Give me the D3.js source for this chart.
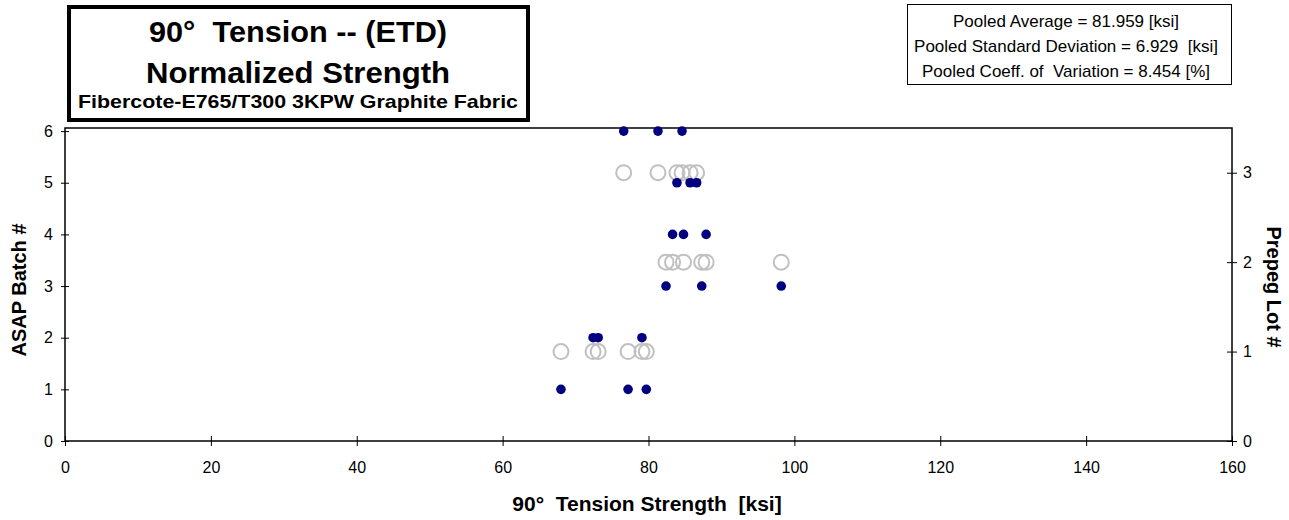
<!DOCTYPE html>
<html>
<head>
<meta charset="utf-8">
<script src="https://cdn.jsdelivr.net/npm/d3@7"></script>
<style>
  body { margin: 0; background: #fff; }
  svg { font-family: "Liberation Sans", Arial, sans-serif; }
  text { white-space: pre; }
</style>
</head>
<body>
<svg id="chart" width="1289" height="520"></svg>
<script>
// values
var batchIds = [1, 2, 3, 4, 5, 6];
var batchValues = [
  [68.0, 77.2, 79.7],
  [72.4, 73.1, 79.1],
  [82.4, 87.3, 98.2],
  [83.3, 84.8, 87.9],
  [83.9, 85.7, 86.6],
  [76.6, 81.3, 84.6]
];
var lotIds = [1, 2, 3];
var lotValues = [
  [68.0, 77.2, 79.7, 72.4, 73.1, 79.1],
  [82.4, 87.3, 98.2, 83.3, 84.8, 87.9],
  [83.9, 85.7, 86.6, 76.6, 81.3, 84.6]
];
var xTicks = [0, 20, 40, 60, 80, 100, 120, 140, 160];
var leftTicks = [0, 1, 2, 3, 4, 5, 6];
var rightTicks = [0, 1, 2, 3];
var titleLines = ["90°  Tension -- (ETD)", "Normalized Strength", "Fibercote-E765/T300 3KPW Graphite Fabric"];
var statLines = ["Pooled Average = 81.959 [ksi]", "Pooled Standard Deviation = 6.929  [ksi]", "Pooled Coeff. of  Variation = 8.454 [%]"];

var svg = d3.select("#chart");
// plot area ("top" is taken on window, so pl/pr/pt/pb)
var pl = 65, pr = 1232, pt = 128, pb = 441;

var x = d3.scaleLinear().domain([0, 160]).range([pl, pr]);
var yL = d3.scaleLinear().domain([0, 6.06]).range([pb, pt]);
var yR = d3.scaleLinear().domain([0, 3.5]).range([pb, pt]);
var fmt = d3.format("d");

// plot frame
svg.append("rect")
  .attr("x", pl).attr("y", pt)
  .attr("width", pr - pl).attr("height", pb - pt)
  .attr("fill", "none").attr("stroke", "#000").attr("stroke-width", 1.5);

// axes, ticks cross the line like excel
function styleAxis(g) {
  g.select(".domain").remove();
  g.selectAll("line").attr("stroke", "#000");
  g.selectAll("text").attr("font-size", 16).attr("fill", "#000")
    .attr("font-family", "Liberation Sans, Arial, sans-serif");
}
svg.append("g").attr("transform", "translate(0," + pb + ")")
  .call(d3.axisBottom(x).tickValues(xTicks).tickFormat(fmt).tickSize(5).tickPadding(16))
  .call(styleAxis)
  .selectAll("line").attr("y1", -5);

svg.append("g").attr("transform", "translate(" + pl + ",0)")
  .call(d3.axisLeft(yL).tickValues(leftTicks).tickFormat(fmt).tickSize(4).tickPadding(8))
  .call(styleAxis)
  .selectAll("line").attr("x1", 4);

svg.append("g").attr("transform", "translate(" + pr + ",0)")
  .call(d3.axisRight(yR).tickValues(rightTicks).tickFormat(fmt).tickSize(5).tickPadding(6))
  .call(styleAxis)
  .selectAll("line").attr("x1", -5);

// lot circles (right axis)
lotIds.forEach(function (lot, i) {
  svg.append("g").selectAll("circle")
    .data(lotValues[i]).enter().append("circle")
    .attr("cx", function (d) { return x(d); })
    .attr("cy", yR(lot))
    .attr("r", 7.5)
    .attr("fill", "none")
    .attr("stroke", "#c0c0c0")
    .attr("stroke-width", 2);
});

// batch dots (left axis)
batchIds.forEach(function (b, i) {
  svg.append("g").selectAll("circle")
    .data(batchValues[i]).enter().append("circle")
    .attr("cx", function (d) { return x(d); })
    .attr("cy", yL(b))
    .attr("r", 4.8)
    .attr("fill", "#000080");
});

// axis titles
svg.append("text")
  .attr("transform", "translate(26,290) rotate(-90)")
  .attr("text-anchor", "middle")
  .attr("font-size", 20).attr("font-weight", "bold")
  .text("ASAP Batch #");

svg.append("text")
  .attr("transform", "translate(1267,287) rotate(90)")
  .attr("text-anchor", "middle")
  .attr("font-size", 20).attr("font-weight", "bold")
  .text("Prepeg Lot #");

svg.append("text")
  .attr("x", 647).attr("y", 511)
  .attr("text-anchor", "middle")
  .attr("font-size", 21).attr("font-weight", "bold")
  .text("90°  Tension Strength  [ksi]");

// title box
svg.append("rect")
  .attr("x", 69).attr("y", 7).attr("width", 459).attr("height", 113)
  .attr("fill", "#fff").attr("stroke", "#000").attr("stroke-width", 4);
var tSizes = [29, 29, 19], tY = [42, 83, 108], tLen = [298, 304, 440];
titleLines.forEach(function (t, i) {
  svg.append("text")
    .attr("x", 298).attr("y", tY[i])
    .attr("text-anchor", "middle")
    .attr("font-size", tSizes[i]).attr("font-weight", "bold")
    .attr("textLength", tLen[i]).attr("lengthAdjust", "spacingAndGlyphs")
    .text(t);
});

// stats box
svg.append("rect")
  .attr("x", 907.5).attr("y", 4.5).attr("width", 324).attr("height", 80)
  .attr("fill", "#fff").attr("stroke", "#000").attr("stroke-width", 1);
statLines.forEach(function (t, i) {
  svg.append("text")
    .attr("x", 1066).attr("y", 27 + i * 25)
    .attr("text-anchor", "middle")
    .attr("font-size", 17)
    .text(t);
});
</script>
</body>
</html>
